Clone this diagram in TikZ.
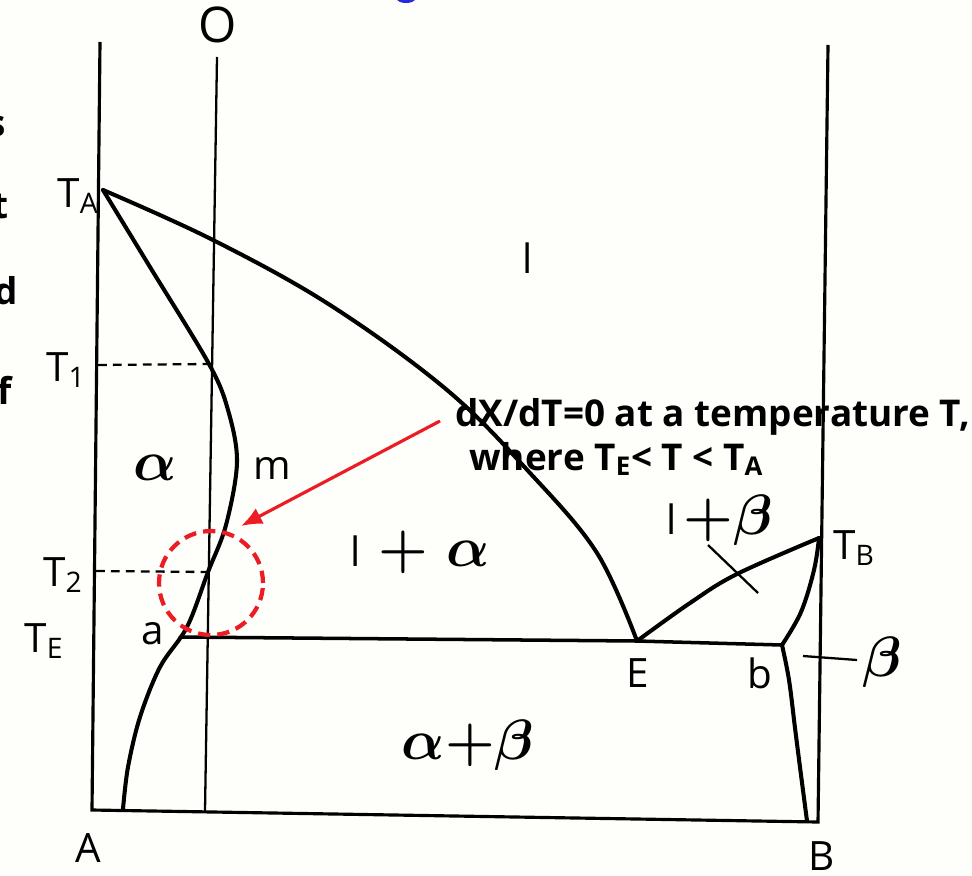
\documentclass[tikz,border=0pt]{standalone}
\usepackage{graphicx}
\usepackage{fontspec}
\setmainfont{Open Sans}
\usetikzlibrary{arrows.meta}

\definecolor{paper}{RGB}{254,254,250}
\definecolor{hired}{RGB}{236,28,36}
\definecolor{titleblue}{RGB}{40,40,220}

\newcommand{\bigsym}[1]{\scalebox{1.3}{\fontsize{25}{27}\selectfont\boldmath$#1$}}

\begin{document}
\begin{tikzpicture}[
    x=0.02cm, y=-0.02cm,
    axis/.style={line width=1.8pt},
    isoline/.style={line width=1.3pt},
    phase/.style={line width=2.3pt, line join=round, line cap=round},
    guide/.style={line width=1.3pt, dash pattern=on 5pt off 3.5pt},
    lbl/.style={font=\fontsize{23}{25}\selectfont, inner sep=0pt},
    grk/.style={font=\fontsize{23}{25}\selectfont, inner sep=0pt},
    note/.style={font=\fontsize{21}{24}\selectfont\bfseries, inner sep=0pt, anchor=base west},
    hilite/.style={circle, draw=hired, line width=2.4pt, dash pattern=on 7pt off 4pt, minimum size=2.08cm, inner sep=0pt},
    pointer/.style={draw=hired, line width=1.8pt, -{Latex[length=12pt, width=10pt]}}
]
  \fill[paper] (0,0) rectangle (972,875);
  \useasboundingbox (0,0) rectangle (972,875);

  % cut-off text of the slide
  \begin{scope}
    \clip (0,0) rectangle (972,875);
    \node[note, anchor=base east] (cut1) at (6,136) {s};
    \node[note, anchor=base east] (cut2) at (9,218) {t};
    \node[note, anchor=base east] (cut3) at (18,304) {d};
    \node[note, anchor=base east] (cut4) at (12,404) {f};
    \fill[titleblue] (406,-1) ellipse[x radius=9, y radius=4];
  \end{scope}

  % key points
  \coordinate (Atop) at (100,42);
  \coordinate (A) at (92,810);
  \coordinate (B) at (818,822);
  \coordinate (Btop) at (828,45);
  \coordinate (Otop) at (217,57);
  \coordinate (Obot) at (205,811);
  \coordinate (TA) at (103,190);
  \coordinate (T1) at (209,364);
  \coordinate (T1ax) at (98,365);
  \coordinate (T2) at (208,572);
  \coordinate (T2ax) at (96,571);
  \coordinate (a) at (180,637);
  \coordinate (E) at (637,641);
  \coordinate (b) at (782,645);
  \coordinate (TB) at (819,538);

  % frame and the alloy line
  \draw[axis] (Atop) -- (A) -- (B) -- (Btop);
  \draw[isoline] (Otop) -- (Obot);
  \draw[guide] (T1ax) -- (T1);
  \draw[guide] (T2ax) -- (T2);

  % phase boundaries
  \draw[phase] plot[smooth, tension=0.6] coordinates {(TA) (213,240) (330,305) (447,390) (530,473) (597,553) (E)};
  \draw[phase] plot[smooth, tension=0.55] coordinates {(TA) (150,267) (T1) (228,410) (237,462) (226,525) (T2) (187,627) (160,667) (140,717) (128,767) (123,809)};
  \draw[phase] plot[smooth, tension=0.6] coordinates {(E) (690,603) (737,574) (TB)};
  \draw[phase] plot[smooth, tension=0.6] coordinates {(TB) (814,570) (801,612) (b)};
  \draw[phase] plot[smooth, tension=0.6] coordinates {(b) (789,680) (795,728) (801,775) (807,821)};
  \draw[phase, line width=2pt] (a) -- (E) -- (b);

  \coordinate (tick1) at (708,545);
  \coordinate (tick2) at (758,593);
  \draw[isoline] (tick1) -- (tick2);
  \coordinate (lead1) at (803,656);
  \coordinate (lead2) at (857,660);
  \draw[isoline] (lead1) -- (lead2);

  % labels
  \node[lbl, font=\fontsize{28}{30}\selectfont] (labO) at (218,25) {O};
  \node[lbl] (labTA) at (78,196) {T\textsubscript{A}};
  \node[lbl] (labT1) at (66,370) {T\textsubscript{1}};
  \node[lbl] (labT2) at (63,575) {T\textsubscript{2}};
  \node[lbl] (labTE) at (44,641) {T\textsubscript{E}};
  \node[lbl] (labTB) at (854,548) {T\textsubscript{B}};
  \node[lbl] (laba) at (153,634) {a};
  \node[lbl] (labm) at (272,468) {m};
  \node[lbl] (labl) at (528,258) {l};
  \node[lbl] (labE) at (638,673) {E};
  \node[lbl] (labb) at (760,673) {b};
  \node[lbl] (labA) at (88,848) {A};
  \node[lbl] (labB) at (822,856) {B};
  \node[grk] (alpha) at (155,468) {\bigsym{\alpha}};
  \node[grk] (liqa) at (420,552) {l\hspace{10pt}\bigsym{+\;\alpha}};
  \node[grk] (liqb) at (720,520) {l\,\bigsym{+\beta}};
  \node[grk] (solb) at (882,662) {\bigsym{\beta}};
  \node[grk] (eut) at (468,745) {\bigsym{\alpha{+}\beta}};

  % annotation
  \node[hilite] (zone) at (211,583) {};
  \node[note] (note1) at (455,426) {dX/dT=0 at a temperature T,};
  \node[note] (note2) at (469,470) {where T\textsubscript{E}< T < T\textsubscript{A}};
  \coordinate (tail) at (440,421);
  \coordinate (tip) at (241,526);
  \draw[pointer] (tail) -- (tip);
\end{tikzpicture}
\end{document}
